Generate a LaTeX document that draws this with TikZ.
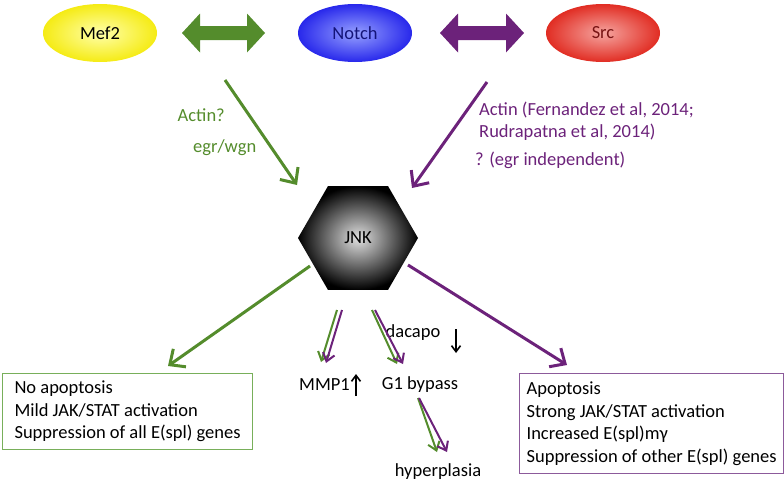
\documentclass[tikz,border=0pt]{standalone}
\usepackage{fontspec}
\setmainfont{Carlito}
\usetikzlibrary{arrows.meta,shapes.geometric}
\definecolor{grn}{RGB}{84,140,44}
\definecolor{prp}{RGB}{108,34,122}
\definecolor{grnbox}{RGB}{120,175,90}
\definecolor{prpbox}{RGB}{140,90,155}
\definecolor{notchtxt}{RGB}{20,20,120}
\definecolor{srctxt}{RGB}{120,20,20}
\tikzset{
  blob/.style={ellipse, minimum width=114pt, minimum height=58pt, inner sep=0pt},
  bigarrow/.style={line width=3pt, -{Straight Barb[length=12pt,width=22pt]}},
  smallarrow/.style={line width=2pt, -{Straight Barb[length=8pt,width=12pt]}},
  blackarrow/.style={line width=1.6pt, black, -{Straight Barb[length=6pt,width=9pt]}},
  resbox/.style={draw, line width=1.2pt, anchor=north west, align=left, inner xsep=7pt, inner ysep=2pt},
  lbl/.style={inner sep=0pt}
}
\begin{document}
\begin{tikzpicture}[x=1pt,y=-1pt,font=\fontsize{18.5}{22.5}\selectfont]
\useasboundingbox (0,0) rectangle (784,485);
% top ellipses
\node[blob, shade, inner color={rgb,255:red,255;green,255;blue,170}, outer color={rgb,255:red,245;green,235;blue,20}] (mef) at (100,33) {Mef2};
\node[blob, shade, inner color={rgb,255:red,150;green,160;blue,255}, outer color={rgb,255:red,40;green,40;blue,235}, text=notchtxt] (notch) at (355,33) {Notch};
\node[blob, shade, inner color={rgb,255:red,245;green,165;blue,160}, outer color={rgb,255:red,225;green,45;blue,35}, text=srctxt] (src) at (603,33) {Src};
% double block arrows
\fill[grn] (182,33) -- (200,13.5) -- (200,26) -- (247,26) -- (247,13.5) -- (265,33) -- (247,52.5) -- (247,40) -- (200,40) -- (200,52.5) -- cycle;
\fill[prp] (440,33) -- (458,13.5) -- (458,26) -- (506,26) -- (506,13.5) -- (524,33) -- (506,52.5) -- (506,40) -- (458,40) -- (458,52.5) -- cycle;
% JNK hexagon
\node[regular polygon, regular polygon sides=6, minimum size=120pt, inner sep=0pt, shade, inner color={rgb,255:red,225;green,225;blue,225}, outer color=black] (jnk) at (358,238) {};
\node[lbl] (jnklbl) at (jnk.center) {JNK};
% coordinates
\coordinate (gs) at (225,80);
\coordinate (ge) at (297,185);
\coordinate (ps) at (487,82);
\coordinate (pe) at (412,188);
\coordinate (gl) at (310,266);
\coordinate (pr) at (408,265);
\coordinate (m1g) at (337,310);
\coordinate (m1p) at (342,310);
\coordinate (g1g) at (372,310);
\coordinate (g1p) at (375,310);
% labels
\node[lbl, text=grn, anchor=east] (actinq) at (225,115) {Actin?};
\node[lbl, text=grn, anchor=west] (egr) at (193,148) {egr/wgn};
\node[lbl, text=prp, anchor=west, align=left] (actinp) at (479,121) {Actin (Fernandez et al, 2014;\\Rudrapatna et al, 2014)};
\node[lbl, text=prp, anchor=west] (indep) at (475,160) {? (egr independent)};
% boxes
\node[resbox, draw=grnbox, minimum width=250pt, minimum height=76pt] (gbox) at (2,373) {No apoptosis\\Mild JAK/STAT activation\\Suppression of all E(spl) genes};
\node[resbox, draw=prpbox, minimum width=263pt, minimum height=100pt] (pbox) at (519,373) {Apoptosis\\Strong JAK/STAT activation\\Increased E(spl)mγ\\Suppression of other E(spl) genes};
% small labels
\node[lbl, anchor=east] (mmp) at (350,385) {MMP1};
\node[lbl] (g1) at (420,385) {G1 bypass};
\node[lbl] (dac) at (413,333) {dacapo};
\node[lbl] (hyp) at (438,472) {hyperplasia};
\coordinate (hg) at (418,398);
\coordinate (hp) at (419,398);
\coordinate (upb) at (356,396);
\coordinate (upt) at (356,374);
\coordinate (dnt) at (456,329);
\coordinate (dnb) at (456,353);
% arrows top
\draw[bigarrow, grn] (gs) -- (ge);
\draw[bigarrow, prp] (ps) -- (pe);
\draw[bigarrow, grn] (gl) -- (168,366) coordinate (gboxtip);
\draw[bigarrow, prp] (pr) -- (567,365) coordinate (pboxtip);
% small pairs
\draw[smallarrow, grn] (m1g) -- (321,362);
\draw[smallarrow, prp] (m1p) -- (326,363);
\draw[smallarrow, grn] (g1g) -- (397,364);
\draw[smallarrow, prp] (g1p) -- (403,364);
\draw[smallarrow, grn] (hg) -- (437,452);
\draw[smallarrow, prp] (hp) -- (447,452);
% black up/down
\draw[blackarrow] (upb) -- (upt);
\draw[blackarrow] (dnt) -- (dnb);
\end{tikzpicture}
\end{document}
